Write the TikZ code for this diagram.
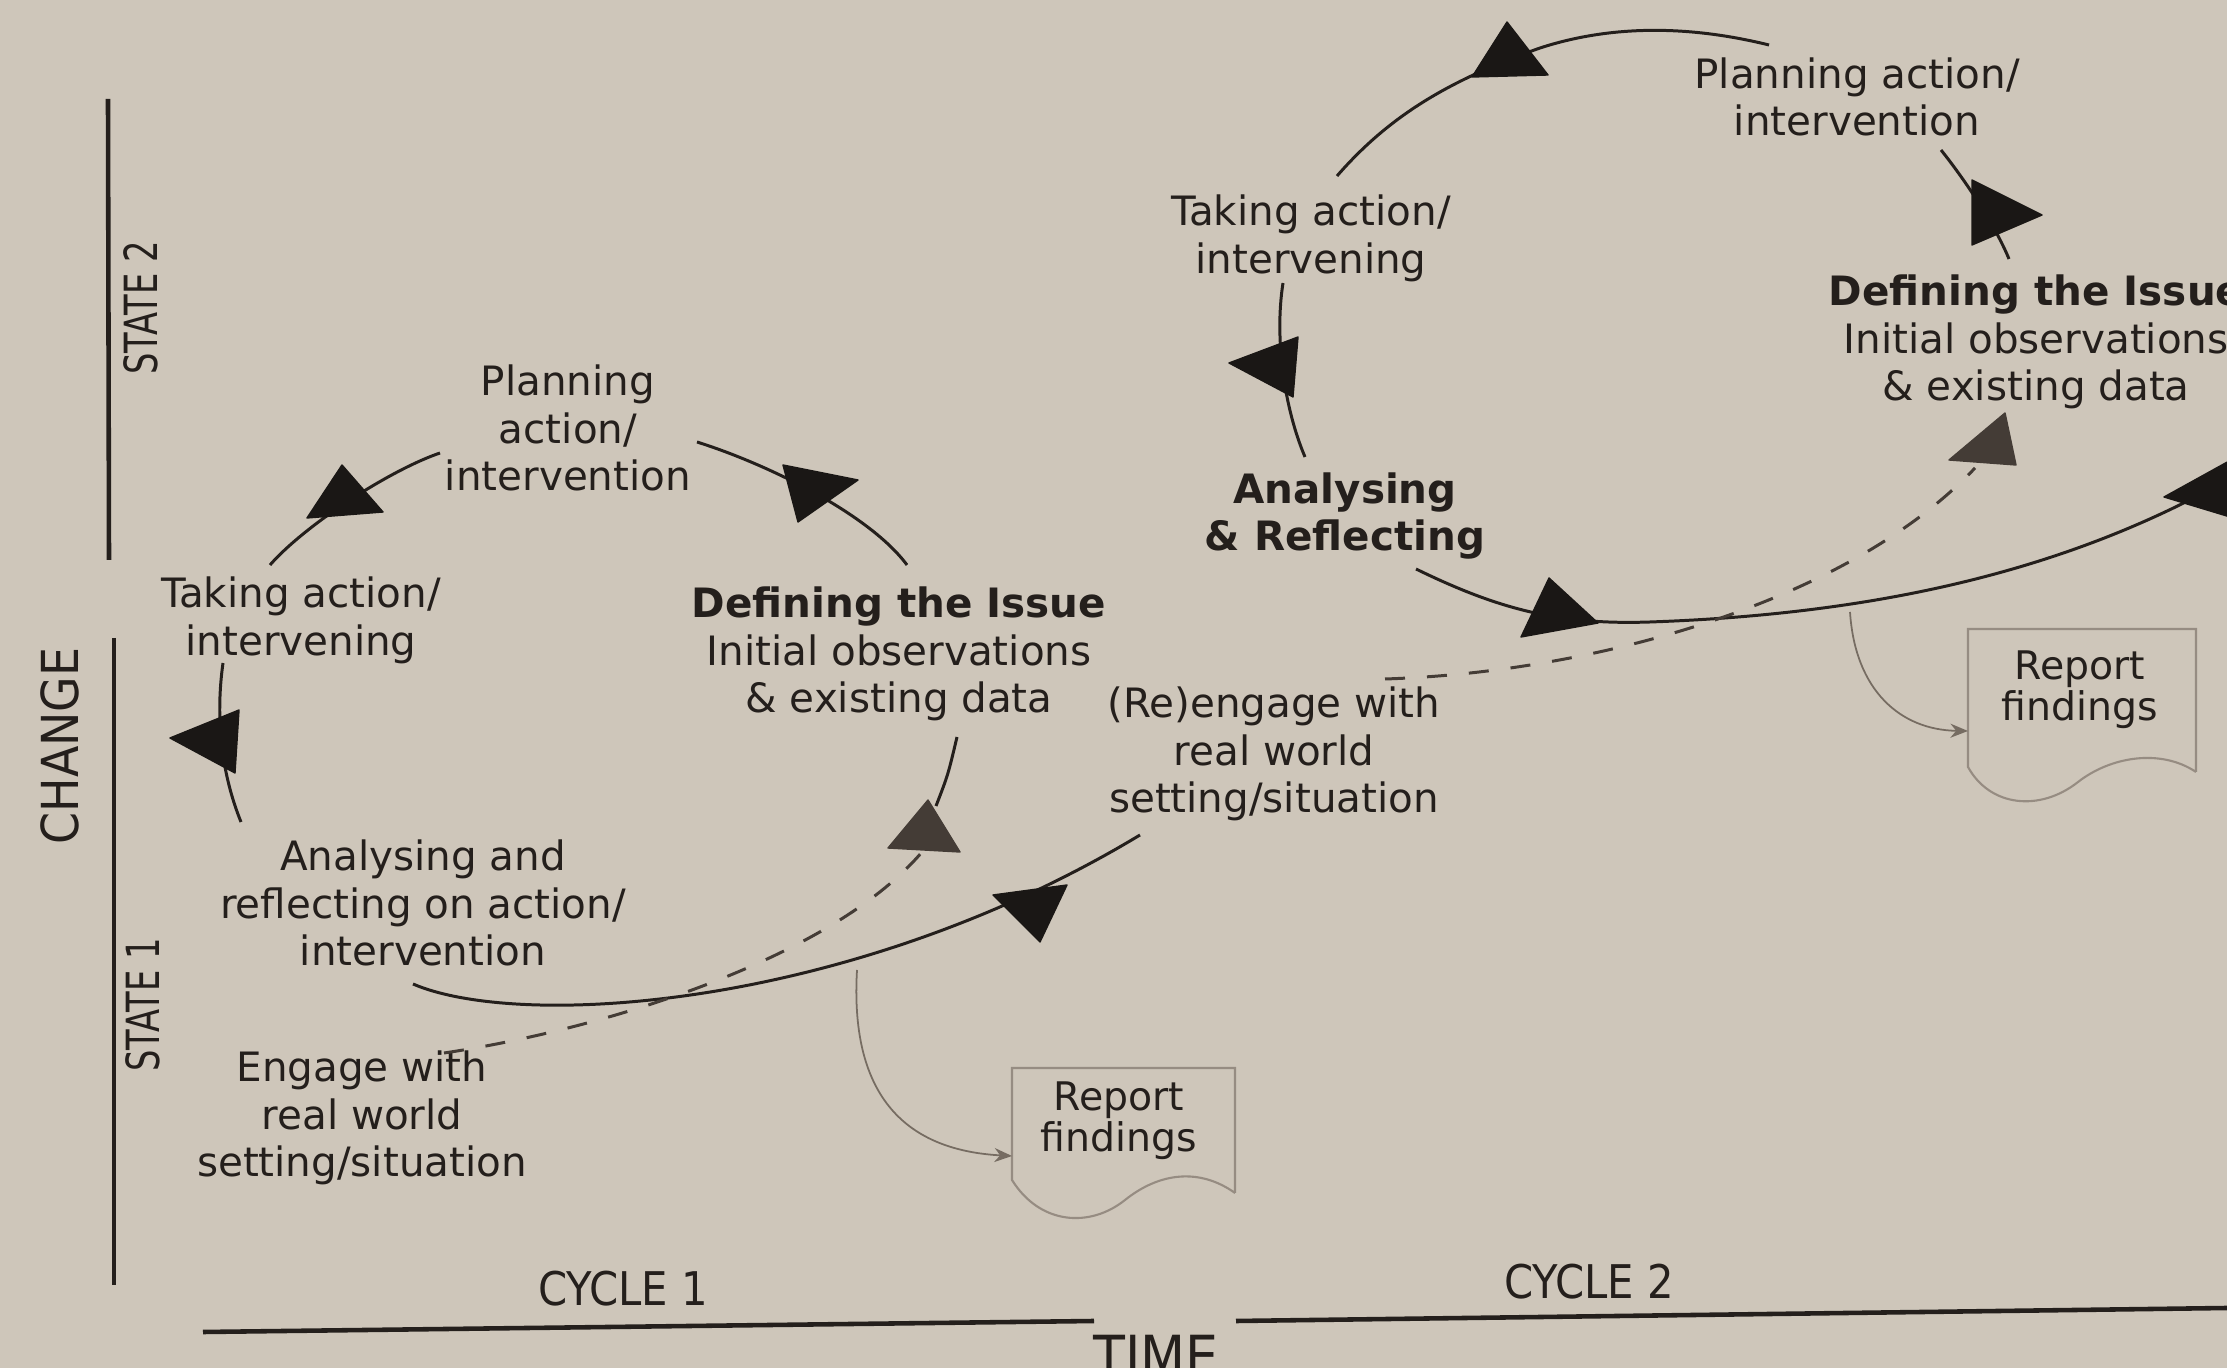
\documentclass[tikz,border=0pt]{standalone}
\usepackage{fontspec}
\setmainfont{DejaVu Sans}
\newfontfamily\condfont{DejaVu Sans Condensed}
\usetikzlibrary{arrows.meta}
\definecolor{paper}{RGB}{206,198,186}
\definecolor{ink}{RGB}{36,31,28}
\definecolor{trink}{RGB}{26,23,21}
\definecolor{inkgray}{RGB}{68,60,54}
\definecolor{thin}{RGB}{118,108,98}
\definecolor{boxline}{RGB}{150,140,130}
\begin{document}
\begin{tikzpicture}[x=0.01cm,y=-0.01cm,
  lbl/.style={align=center,font=\fontsize{11.5}{13.6}\selectfont,text=ink,inner sep=0pt},
  replbl/.style={align=center,font=\fontsize{11.2}{11.7}\selectfont,text=ink,inner sep=0pt},
  axlbl/.style={text=ink,inner sep=0pt},
  arcline/.style={draw=ink,line width=0.85pt},
  dashline/.style={draw=inkgray,line width=0.85pt,dash pattern=on 0.2cm off 0.22cm},
  tri/.style={fill=trink,draw=trink,line width=0.4pt,line join=round},
  trigray/.style={fill=inkgray,draw=inkgray,line width=0.4pt,line join=round},
  axis/.style={draw=ink,line width=1.3pt},
  thinline/.style={draw=thin,line width=0.5pt},
  docbox/.style={draw=boxline,line width=0.6pt}]
\useasboundingbox (0,0) rectangle (2227,1368);
\clip (0,0) rectangle (2227,1368);
\fill[paper] (0,0) rectangle (2227,1368);

% ---------- axes ----------
\coordinate (v1t) at (108,99);  \coordinate (v1b) at (109,560);
\coordinate (v2t) at (114,638); \coordinate (v2b) at (114,1285);
\coordinate (h1l) at (203,1332); \coordinate (h1r) at (1094,1321);
\coordinate (h2l) at (1236,1321); \coordinate (h2r) at (2227,1308);
\draw[axis] (v1t) -- (v1b);
\draw[axis] (v2t) -- (v2b);
\draw[axis] (h1l) -- (h1r);
\draw[axis] (h2l) -- (h2r);

\node[axlbl,rotate=90] (change) at (60,746) {\condfont\fontsize{14.5}{17}\selectfont CHANGE};
\node[axlbl,rotate=90] (state2) at (141,308) {\condfont\fontsize{13}{15}\selectfont\scalebox{0.82}[1]{STATE 2}};
\node[axlbl,rotate=90] (state1) at (143,1005) {\condfont\fontsize{13}{15}\selectfont\scalebox{0.82}[1]{STATE 1}};
\node[axlbl] (cyc1) at (623,1289) {\condfont\fontsize{13.2}{15}\selectfont CYCLE 1};
\node[axlbl] (cyc2) at (1589,1282) {\condfont\fontsize{13.2}{15}\selectfont CYCLE 2};
\node[axlbl,anchor=base] (time) at (1156,1377) {\condfont\fontsize{16.5}{18}\selectfont TIME};

% ---------- cycle 1 labels ----------
\node[lbl] (c1plan) at (568,428) {Planning\\action/\\intervention};
\node[lbl] (c1take) at (301,620) {Taking action/\\intervening};
\node[lbl] (c1def) at (899,654) {\textbf{Defining the Issue}\\Initial observations\\\& existing data};
\node[lbl] (c1anal) at (423,903) {Analysing and\\reflecting on action/\\intervention};
\node[lbl] (c1eng) at (362,1118) {Engage with\\real world\\setting/situation};
\node[lbl] (reeng) at (1274,754) {(Re)engage with\\real world\\setting/situation};

% ---------- cycle 2 labels ----------
\node[lbl] (c2plan) at (1857,97) {Planning action/\\intervention};
\node[lbl] (c2take) at (1311,238) {Taking action/\\intervening};
\node[lbl] (c2anal) at (1345,516) {\textbf{Analysing}\\\textbf{\& Reflecting}};
\node[lbl] (c2def) at (2036,342) {\textbf{Defining the Issue}\\Initial observations\\\& existing data};

% ---------- report boxes ----------
\draw[docbox] (1235,1193) -- (1235,1068) -- (1012,1068) -- (1012,1180)
  .. controls (1040,1225) and (1090,1228) .. (1125,1200)
  .. controls (1160,1172) and (1200,1168) .. (1235,1193);
\node[replbl] (rep1) at (1119,1121) {Report\\findings};
\draw[docbox] (2196,772) -- (2196,629) -- (1968,629) -- (1968,767)
  .. controls (1990,807) and (2040,812) .. (2078,782)
  .. controls (2110,757) and (2160,748) .. (2196,772);
\node[replbl] (rep2) at (2080,690) {Report\\findings};

% ---------- cycle 1 connectors ----------
\coordinate (a1s) at (270,565);  \coordinate (a1e) at (440,453);
\coordinate (a2s) at (907,565);  \coordinate (a2e) at (697,442);
\coordinate (a3s) at (223,663);  \coordinate (a3e) at (241,822);
\coordinate (a4s) at (413,984);  \coordinate (a4e) at (1140,835);
\coordinate (a5s) at (444,1053); \coordinate (a5e) at (922,852);
\coordinate (a6s) at (936,806);  \coordinate (a6e) at (957,737);
\coordinate (j1) at (857,970);   \coordinate (rep1in) at (1012,1156);

\draw[arcline] (a1s) .. controls (305,525) and (390,470) .. (a1e);
\draw[arcline] (a2s) .. controls (870,515) and (770,465) .. (a2e);
\draw[arcline] (a3s) .. controls (215,720) and (222,775) .. (a3e);
\draw[arcline] (a4s) .. controls (520,1030) and (850,1010) .. (a4e);
\draw[dashline] (a5s) .. controls (600,1030) and (830,960) .. (a5e);
\draw[arcline] (a6s) .. controls (948,775) .. (a6e);
\draw[thinline,-{Stealth[length=5pt,width=4pt]}] (j1) .. controls (850,1090) and (900,1150) .. (rep1in);

\fill[tri] (342,465) -- (307,518) -- (383,512) -- cycle;
\fill[tri] (783,465) -- (858,480) -- (798,522) -- cycle;
\fill[tri] (170,738) -- (239,710) -- (235,773) -- cycle;
\fill[trigray] (928,800) -- (888,848) -- (960,852) -- cycle;
\fill[tri] (993,895) -- (1067,885) -- (1040,942) -- cycle;

% ---------- cycle 2 connectors ----------
\coordinate (b1s) at (1337,176);  \coordinate (b1m) at (1540,48); \coordinate (b1e) at (1769,45);
\coordinate (b2s) at (1941,150);  \coordinate (b2e) at (2009,259);
\coordinate (b3s) at (1283,283);  \coordinate (b3e) at (1305,457);
\coordinate (b4s) at (1416,569);  \coordinate (b4m) at (1650,622); \coordinate (b4e) at (2227,480);
\coordinate (b5s) at (1385,679);  \coordinate (b5e) at (1975,468);
\coordinate (j2) at (1850,612);   \coordinate (rep2in) at (1968,731);

\draw[arcline] (b1s) .. controls (1390,115) and (1450,80) .. (b1m)
  .. controls (1620,22) and (1700,28) .. (b1e);
\draw[arcline] (b2s) .. controls (1965,180) and (1995,225) .. (b2e);
\draw[arcline] (b3s) .. controls (1274,340) and (1285,410) .. (b3e);
\draw[arcline] (b4s) .. controls (1500,610) and (1560,625) .. (b4m)
  .. controls (1850,615) and (2050,580) .. (b4e);
\draw[dashline] (b5s) .. controls (1600,672) and (1850,600) .. (b5e);
\draw[thinline,-{Stealth[length=5pt,width=4pt]}] (j2) .. controls (1855,690) and (1900,730) .. (rep2in);

\fill[tri] (1507,22) -- (1472,77) -- (1548,75) -- cycle;
\fill[tri] (1972,180) -- (2042,215) -- (1972,245) -- cycle;
\fill[tri] (1229,363) -- (1298,337) -- (1293,397) -- cycle;
\fill[tri] (1549,578) -- (1521,637) -- (1598,623) -- cycle;
\fill[trigray] (2005,413) -- (1949,460) -- (2016,465) -- cycle;
\fill[tri] (2164,497) -- (2240,455) -- (2240,520) -- cycle;
\end{tikzpicture}
\end{document}
